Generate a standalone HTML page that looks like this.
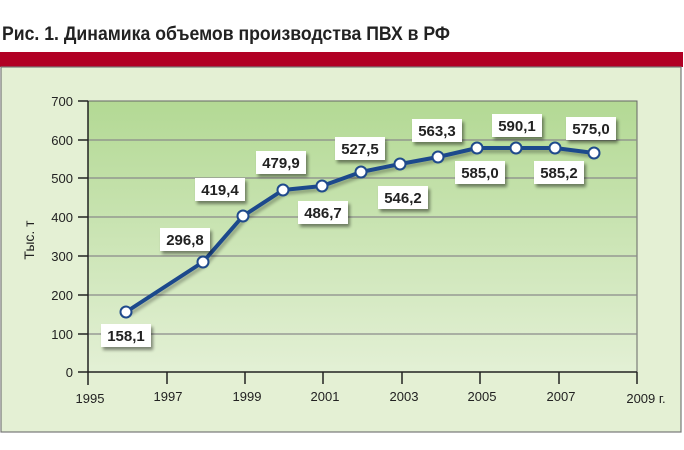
<!DOCTYPE html>
<html><head><meta charset="utf-8"><style>
body{margin:0;width:684px;height:450px;background:#fff;overflow:hidden;font-family:"Liberation Sans",sans-serif}
</style></head><body>
<svg width="684" height="450" xmlns="http://www.w3.org/2000/svg" style="position:absolute;left:0;top:0">
<defs>
<linearGradient id="g" x1="0" y1="0" x2="0" y2="1">
<stop offset="0" stop-color="#b3d994"/><stop offset="1" stop-color="#e3f0d5"/></linearGradient>
<filter id="s" x="-30%" y="-30%" width="170%" height="180%"><feGaussianBlur in="SourceAlpha" stdDeviation="1.5"/><feOffset dx="2" dy="3"/><feComponentTransfer><feFuncA type="linear" slope="0.45"/></feComponentTransfer><feMerge><feMergeNode/><feMergeNode in="SourceGraphic"/></feMerge></filter>
<filter id="ls"><feGaussianBlur in="SourceAlpha" stdDeviation="1.5"/><feOffset dx="2" dy="3"/><feComponentTransfer><feFuncA type="linear" slope="0.3"/></feComponentTransfer><feMerge><feMergeNode/><feMergeNode in="SourceGraphic"/></feMerge></filter>
</defs>
<text x="2" y="40" font-size="19" font-weight="bold" fill="#222" textLength="448" lengthAdjust="spacingAndGlyphs" font-family="Liberation Sans Narrow, Liberation Sans, sans-serif">Рис. 1. Динамика объемов производства ПВХ в РФ</text>
<rect x="0" y="52" width="683" height="15" fill="#b10024"/>
<rect x="1" y="67" width="680" height="365" fill="#e4f0d4" stroke="#777" stroke-width="1.2"/>
<rect x="88" y="101" width="549" height="271" fill="url(#g)" stroke="#666" stroke-width="1"/>
<g stroke="#8a8a8a" stroke-width="1.2">
<line x1="88" y1="140" x2="637" y2="140"/><line x1="88" y1="178" x2="637" y2="178"/><line x1="88" y1="217" x2="637" y2="217"/><line x1="88" y1="256" x2="637" y2="256"/><line x1="88" y1="295" x2="637" y2="295"/><line x1="88" y1="334" x2="637" y2="334"/>
</g>
<g stroke="#222" stroke-width="1.5">
<line x1="78" y1="101" x2="88" y2="101"/><line x1="78" y1="140" x2="88" y2="140"/><line x1="78" y1="178" x2="88" y2="178"/><line x1="78" y1="217" x2="88" y2="217"/><line x1="78" y1="256" x2="88" y2="256"/><line x1="78" y1="295" x2="88" y2="295"/><line x1="78" y1="334" x2="88" y2="334"/><line x1="78" y1="372" x2="637" y2="372"/>
<line x1="88" y1="101" x2="88" y2="385"/>
<line x1="167" y1="372" x2="167" y2="384"/><line x1="245" y1="372" x2="245" y2="384"/><line x1="323" y1="372" x2="323" y2="384"/><line x1="402" y1="372" x2="402" y2="384"/><line x1="480" y1="372" x2="480" y2="384"/><line x1="559" y1="372" x2="559" y2="384"/><line x1="637" y1="372" x2="637" y2="384"/>
</g>
<g font-size="13" fill="#222" text-anchor="end">
<text x="73" y="106">700</text><text x="73" y="145">600</text><text x="73" y="183">500</text><text x="73" y="222">400</text><text x="73" y="261">300</text><text x="73" y="300">200</text><text x="73" y="339">100</text><text x="73" y="377">0</text>
</g>
<g font-size="13" fill="#222" text-anchor="middle">
<text x="90" y="403">1995</text><text x="168" y="401">1997</text><text x="247" y="401">1999</text><text x="325" y="401">2001</text><text x="404" y="401">2003</text><text x="482" y="401">2005</text><text x="561" y="401">2007</text><text x="646" y="403">2009 г.</text>
</g>
<text transform="translate(34,240) rotate(-90)" font-size="14" fill="#222" text-anchor="middle">Тыс. т</text>
<polyline filter="url(#ls)" points="126,312 203,262 243,216 283,190 322,186 361,172 400,164 438,157 477,148 516,148 555,148 594,153" fill="none" stroke="#1f4a8c" stroke-width="4" stroke-linejoin="round"/>
<g fill="#fff" stroke="#1f4a8c" stroke-width="2">
<circle cx="126" cy="312" r="5.5"/><circle cx="203" cy="262" r="5.5"/><circle cx="243" cy="216" r="5.5"/><circle cx="283" cy="190" r="5.5"/><circle cx="322" cy="186" r="5.5"/><circle cx="361" cy="172" r="5.5"/><circle cx="400" cy="164" r="5.5"/><circle cx="438" cy="157" r="5.5"/><circle cx="477" cy="148" r="5.5"/><circle cx="516" cy="148" r="5.5"/><circle cx="555" cy="148" r="5.5"/><circle cx="594" cy="153" r="5.5"/>
</g>
<g font-size="15" font-weight="bold" fill="#222" text-anchor="middle">
<g filter="url(#s)"><rect x="101" y="324" width="50" height="23" fill="#fff"/></g><text x="126" y="341">158,1</text>
<g filter="url(#s)"><rect x="160" y="228" width="50" height="23" fill="#fff"/></g><text x="185" y="245">296,8</text>
<g filter="url(#s)"><rect x="195" y="178" width="50" height="23" fill="#fff"/></g><text x="220" y="195">419,4</text>
<g filter="url(#s)"><rect x="256" y="151" width="50" height="23" fill="#fff"/></g><text x="281" y="168">479,9</text>
<g filter="url(#s)"><rect x="298" y="201" width="50" height="23" fill="#fff"/></g><text x="323" y="218">486,7</text>
<g filter="url(#s)"><rect x="335" y="137" width="50" height="23" fill="#fff"/></g><text x="360" y="154">527,5</text>
<g filter="url(#s)"><rect x="378" y="186" width="50" height="23" fill="#fff"/></g><text x="403" y="203">546,2</text>
<g filter="url(#s)"><rect x="412" y="119" width="50" height="23" fill="#fff"/></g><text x="437" y="136">563,3</text>
<g filter="url(#s)"><rect x="455" y="161" width="50" height="23" fill="#fff"/></g><text x="480" y="178">585,0</text>
<g filter="url(#s)"><rect x="492" y="114" width="50" height="23" fill="#fff"/></g><text x="517" y="131">590,1</text>
<g filter="url(#s)"><rect x="534" y="161" width="50" height="23" fill="#fff"/></g><text x="559" y="178">585,2</text>
<g filter="url(#s)"><rect x="566" y="117" width="50" height="23" fill="#fff"/></g><text x="591" y="134">575,0</text>
</g>
</svg>
</body></html>
